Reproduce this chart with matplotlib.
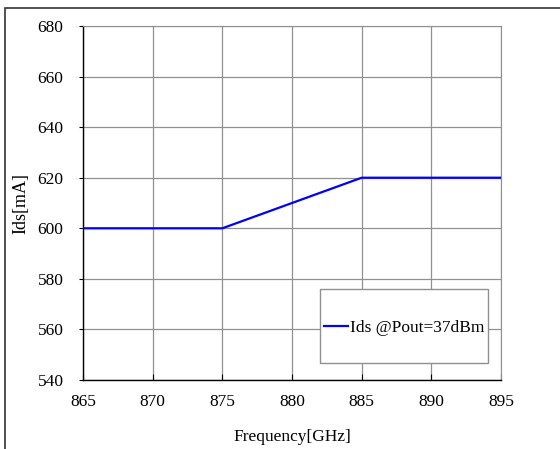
import matplotlib.pyplot as plt
from matplotlib.patches import Rectangle

freq = [865, 870, 875, 880, 885, 890, 895]
ids = [600, 600, 600, 610, 620, 620, 620]
xticks = [865, 870, 875, 880, 885, 890, 895]
yticks = [540, 560, 580, 600, 620, 640, 660, 680]

plt.rcParams['font.family'] = ['Liberation Serif', 'DejaVu Serif']

fig = plt.figure(figsize=(5.6, 4.49), dpi=100)
ax = fig.add_axes([83/560, 1-380/449, 418/560, 354/449])

# outer frame of the figure
fig.patches.append(Rectangle((5/560, -0.1), 1.2, 1-8/449+0.1, transform=fig.transFigure,
                             fill=False, edgecolor='#333333', linewidth=1.2))

ax.plot(freq, ids, color='#0000ff', linewidth=1.6, label='Ids @Pout=37dBm', zorder=3)

ax.set_xlim(865, 895)
ax.set_ylim(540, 680)
ax.set_xticks(xticks)
ax.set_yticks(yticks)
ax.grid(True, color='#909090', linewidth=0.9)
ax.set_axisbelow(True)

for s in ['top', 'right']:
    ax.spines[s].set_color('#909090')
for s in ['left', 'bottom']:
    ax.spines[s].set_color('black')
    ax.spines[s].set_linewidth(1.0)

ax.tick_params(axis='x', direction='in', length=4, labelsize=12.5, pad=10, colors='black')
ax.tick_params(axis='y', direction='out', length=3, labelsize=12.5, pad=11)
ax.set_xlabel('Frequency[GHz]', fontsize=12.5, labelpad=14)
ax.set_ylabel('Ids[mA]', fontsize=13, labelpad=6)

# legend box
ax.add_patch(Rectangle((0.567, 0.048), 0.402, 0.208, transform=ax.transAxes,
                       facecolor='white', edgecolor='#909090', linewidth=1.0, zorder=4))
ax.legend(loc='center', bbox_to_anchor=(0.768, 0.147), frameon=False, fontsize=12.5,
          handlelength=1.4, handletextpad=0.1, borderpad=0).set_zorder(5)

fig.savefig('out.png', dpi=100)
